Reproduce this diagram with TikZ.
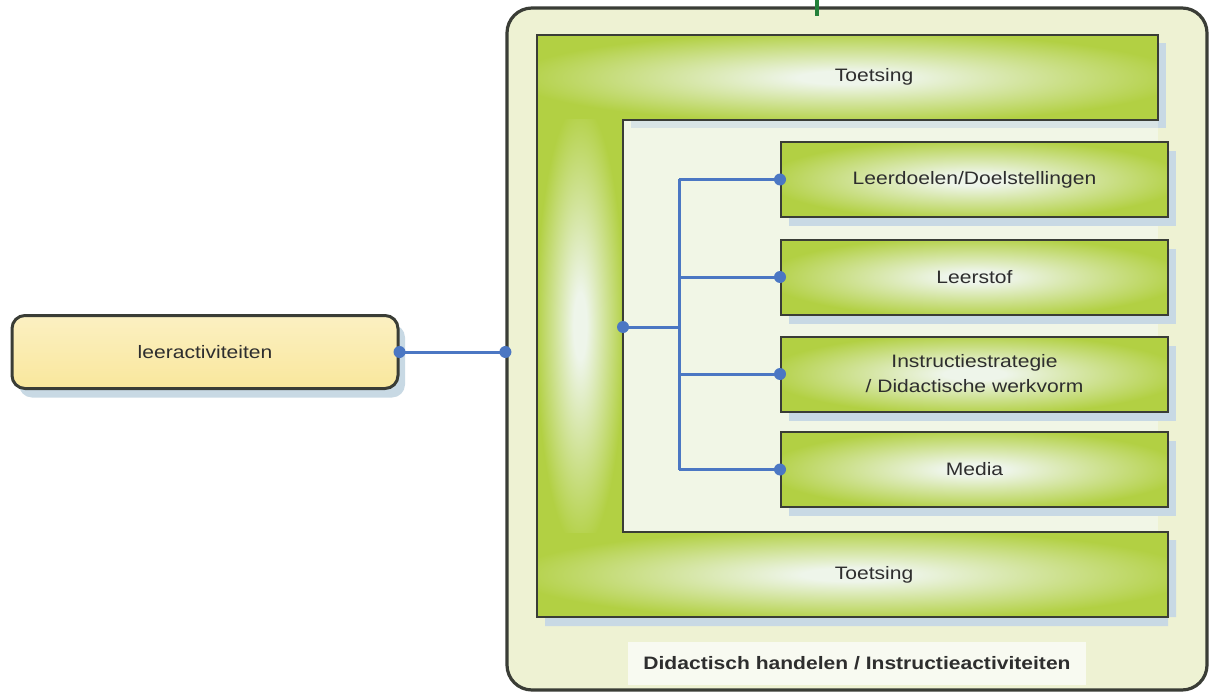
\documentclass[tikz,border=0pt]{standalone}
\usepackage{fontspec}
\setmainfont[FakeStretch=1.17]{Liberation Sans}
\usetikzlibrary{shadows}

\definecolor{frameFill}{HTML}{EEF2D3}
\definecolor{innerFill}{HTML}{F1F6E6}
\definecolor{leafGreen}{HTML}{B2D043}
\definecolor{glow}{HTML}{EEF5EA}
\definecolor{edgeDark}{HTML}{3A3D36}
\definecolor{linkBlue}{HTML}{4B77C3}
\definecolor{shadowBlue}{HTML}{C8D9E4}
\definecolor{sand}{HTML}{F9E79C}
\definecolor{sandLight}{HTML}{FBF0C2}
\definecolor{textGrey}{HTML}{2E2E2E}
\definecolor{captionFill}{HTML}{F8FAF1}
\definecolor{tickGreen}{HTML}{23803A}

% soft elliptic glow used inside the green blocks
\pgfdeclareradialshading{glowshade}{\pgfpoint{0bp}{0bp}}{%
  color(0bp)=(glow); color(4bp)=(glow); color(27bp)=(leafGreen); color(50bp)=(leafGreen)}

\newcommand{\lblfont}{\fontsize{18}{25}\selectfont}

\tikzset{
  greenbox/.style={draw=edgeDark, line width=2pt, shading=glowshade,
    minimum width=387pt, minimum height=75pt, inner sep=0pt,
    text=textGrey, font=\lblfont, align=center,
    drop shadow={shadow xshift=8pt, shadow yshift=-9pt, fill=shadowBlue, opacity=1}},
  sandbox/.style={draw=edgeDark, line width=3pt, rounded corners=13pt,
    top color=sandLight, bottom color=sand,
    minimum width=386pt, minimum height=73pt, text=textGrey, font=\lblfont,
    drop shadow={shadow xshift=7pt, shadow yshift=-9pt, fill=shadowBlue, opacity=1}},
  framebox/.style={draw=edgeDark, line width=3.2pt, rounded corners=25pt, fill=frameFill,
    minimum width=700pt, minimum height=682pt},
  link/.style={draw=linkBlue, line width=3pt},
  dot/.style={circle, fill=linkBlue, inner sep=0pt, minimum size=12pt},
  plain/.style={text=textGrey, font=\lblfont},
}

\begin{document}
\begin{tikzpicture}[x=1pt, y=-1pt]
\useasboundingbox[fill=white] (0,0) rectangle (1212,695);

% outer frame
\node[framebox] (frame) at (857,349) {};
\draw[tickGreen, line width=4pt] (817,0) coordinate (tickTop) -- (817,16) coordinate (tickEnd);

% inner light field, with the band's shadow along its top
\fill[innerFill] (623,120) rectangle (1158,532);
\fill[shadowBlue!60!innerFill] (631,120) rectangle (1158,128);

% shadow of the assessment band
\fill[shadowBlue] (1158,43) -- (1166,43) -- (1166,128) -- (1158,128) -- cycle;
\fill[shadowBlue] (545,617) -- (1176,617) -- (1176,540) -- (1168,540) -- (1168,626) -- (545,626) -- cycle;

% assessment band: top bar, left bar, bottom bar
\fill[leafGreen] (537,35) rectangle (623,617);
\shade[shading=glowshade] (537,35) rectangle (1158,120);
\shade[shading=glowshade] (537,532) rectangle (1168,617);
\shade[shading=glowshade] (539,120) rectangle (621,532);
\draw[edgeDark, line width=2pt, line join=miter]
  (537,35) -- (1158,35) -- (1158,120) -- (623,120) -- (623,532)
  -- (1168,532) -- (1168,617) -- (537,617) -- cycle;
\node[plain] (toetsTop) at (874,77) {Toetsing};
\node[plain] (toetsBot) at (874,575) {Toetsing};

% components
\node[greenbox] (doelen) at (974.5,179.5) {Leerdoelen/Doelstellingen};
\node[greenbox] (stof)   at (974.5,277)   {Leerstof};
\node[greenbox] (strat)  at (974.5,374)   {Instructiestrategie\\/ Didactische werkvorm};
\node[greenbox] (media)  at (974.5,469.5) {Media};

% caption
\node[fill=captionFill, minimum width=458pt, minimum height=43pt, text=textGrey,
      font=\fontsize{18}{22}\selectfont\bfseries] (caption) at (857,663)
      {Didactisch handelen / Instructieactiviteiten};

% learner activities
\node[sandbox] (leer) at (205,352) {leeractiviteiten};

% connectors
\coordinate (entry) at (leer.east -| frame.west);
\draw[link] (leer.east) -- (entry);
\node[dot] at (leer.east) {};
\node[dot] at (entry) {};

\coordinate (hub) at (623,327);
\coordinate (fork) at (679,327);
\draw[link] (hub) -- (fork);
\draw[link] (fork |- doelen.west) -- (fork |- media.west);
\foreach \b in {doelen,stof,strat,media}{
  \draw[link] (fork |- \b.west) -- (\b.west);
  \node[dot] at (\b.west) {};
}
\node[dot] at (hub) {};
\end{tikzpicture}
\end{document}
